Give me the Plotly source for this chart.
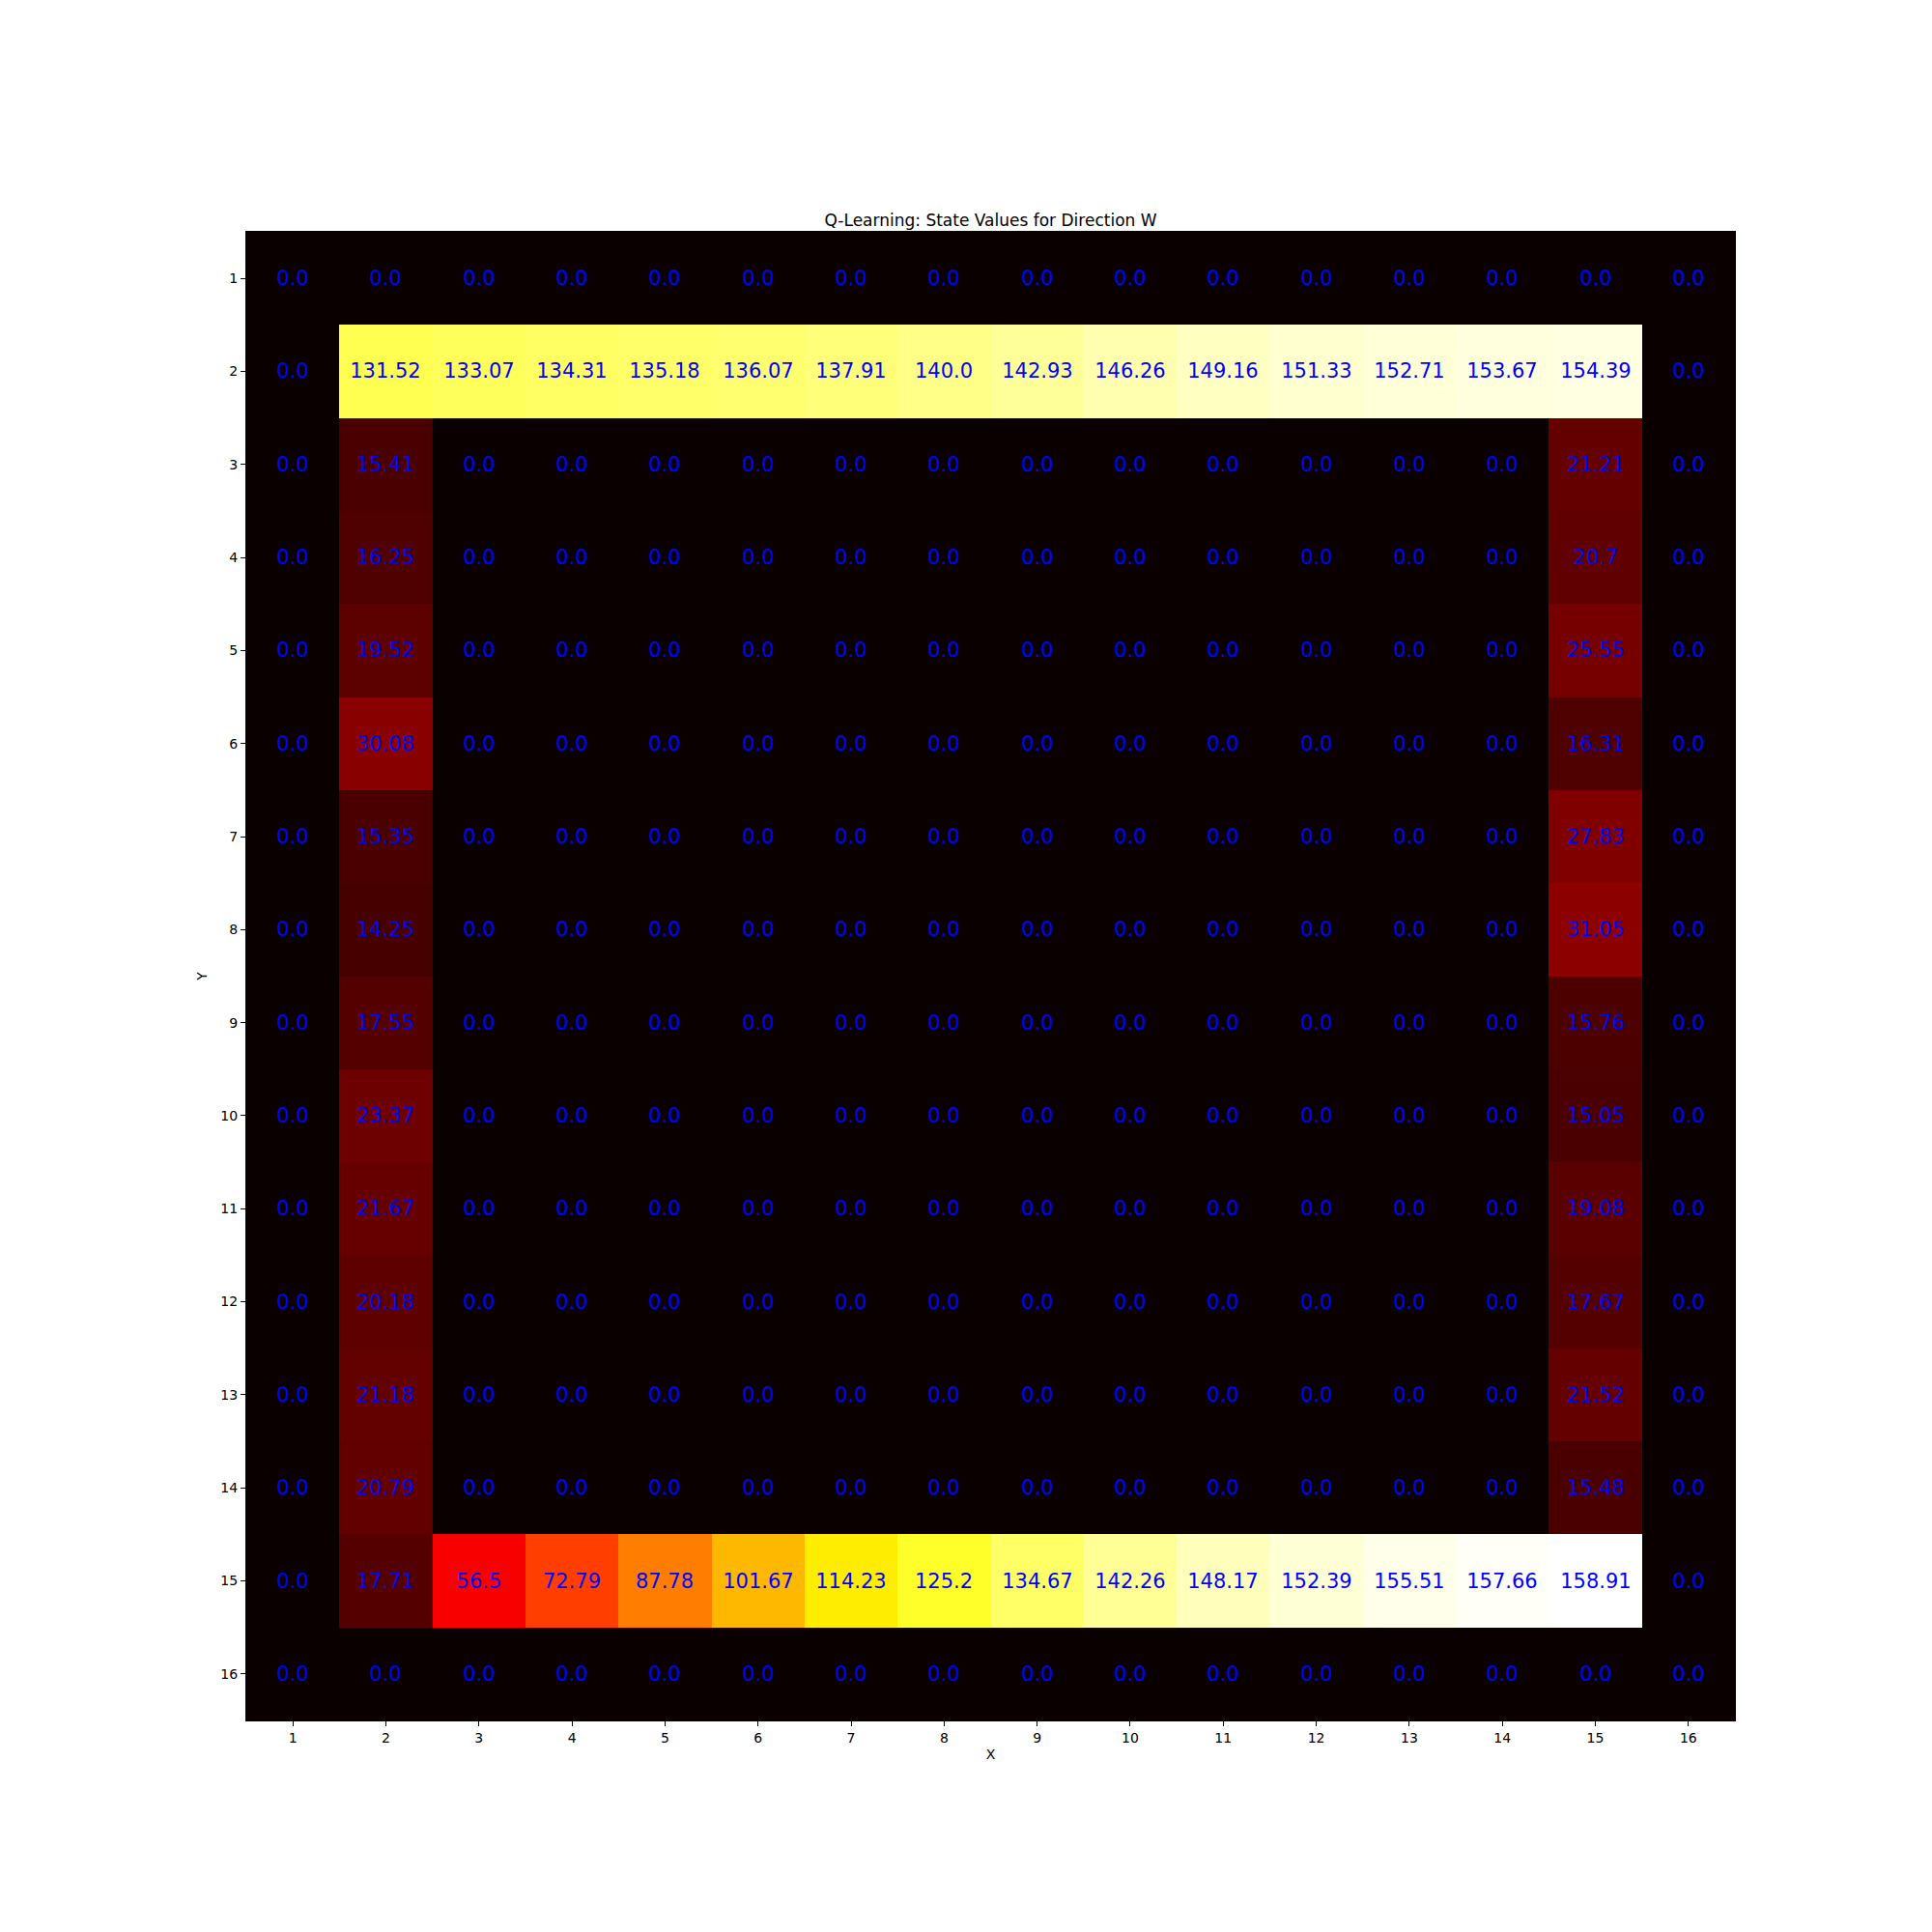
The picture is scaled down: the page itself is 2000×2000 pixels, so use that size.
import plotly.graph_objects as go

xs = list(range(1, 17))
ys = list(range(1, 17))

row2 = [0.0, 131.52, 133.07, 134.31, 135.18, 136.07, 137.91, 140.0, 142.93, 146.26,
        149.16, 151.33, 152.71, 153.67, 154.39, 0.0]
row15 = [0.0, 17.71, 56.5, 72.79, 87.78, 101.67, 114.23, 125.2, 134.67, 142.26,
         148.17, 152.39, 155.51, 157.66, 158.91, 0.0]
col2_rows3_14 = [15.41, 16.25, 19.52, 30.08, 15.35, 14.25, 17.55, 23.37, 21.67, 20.18, 21.18, 20.79]
col15_rows3_14 = [21.21, 20.7, 25.55, 16.31, 27.83, 31.05, 15.76, 15.05, 19.08, 17.67, 21.52, 15.48]

z = [[0.0] * 16 for _ in range(16)]
z[1] = list(row2)
z[14] = list(row15)
for i, v in enumerate(col2_rows3_14):
    z[i + 2][1] = v
for i, v in enumerate(col15_rows3_14):
    z[i + 2][14] = v

text = [[str(round(v, 2)) for v in row] for row in z]

hot = [
    [0.0, "rgb(10,0,0)"],
    [0.365079, "rgb(255,0,0)"],
    [0.746032, "rgb(255,255,0)"],
    [1.0, "rgb(255,255,255)"],
]

fig = go.Figure(go.Heatmap(
    z=z, x=xs, y=ys, text=text, texttemplate="%{text}",
    textfont=dict(color="blue", size=21, family="DejaVu Sans"),
    colorscale=hot, zmin=0, zmax=max(max(r) for r in z),
    showscale=False, hoverinfo="skip", xgap=0, ygap=0,
))

fig.update_layout(
    width=2000, height=2000,
    margin=dict(l=247, r=212, t=232, b=227),
    paper_bgcolor="white", plot_bgcolor="white",
    font=dict(family="DejaVu Sans", color="black"),
    title=dict(text="Q-Learning: State Values for Direction W", x=0.5, xanchor="center",
               xref="paper", yref="paper", y=1, yanchor="bottom", pad=dict(b=6),
               font=dict(size=17, color="black")),
)
fig.update_xaxes(
    tickmode="array", tickvals=xs, ticktext=[str(v) for v in xs],
    ticks="outside", ticklen=5, tickcolor="black", tickfont=dict(size=14),
    showgrid=False, zeroline=False, range=[0.5, 16.5],
    title=dict(text="X", font=dict(size=14), standoff=5),
    showline=True, linecolor="black", mirror=True,
)
fig.update_yaxes(
    tickmode="array", tickvals=ys, ticktext=[str(v) for v in ys],
    ticks="outside", ticklen=5, tickcolor="black", tickfont=dict(size=14),
    showgrid=False, zeroline=False, range=[16.5, 0.5],
    title=dict(text="Y", font=dict(size=14), standoff=10),
    showline=True, linecolor="black", mirror=True,
)

fig.write_html("out.html")
